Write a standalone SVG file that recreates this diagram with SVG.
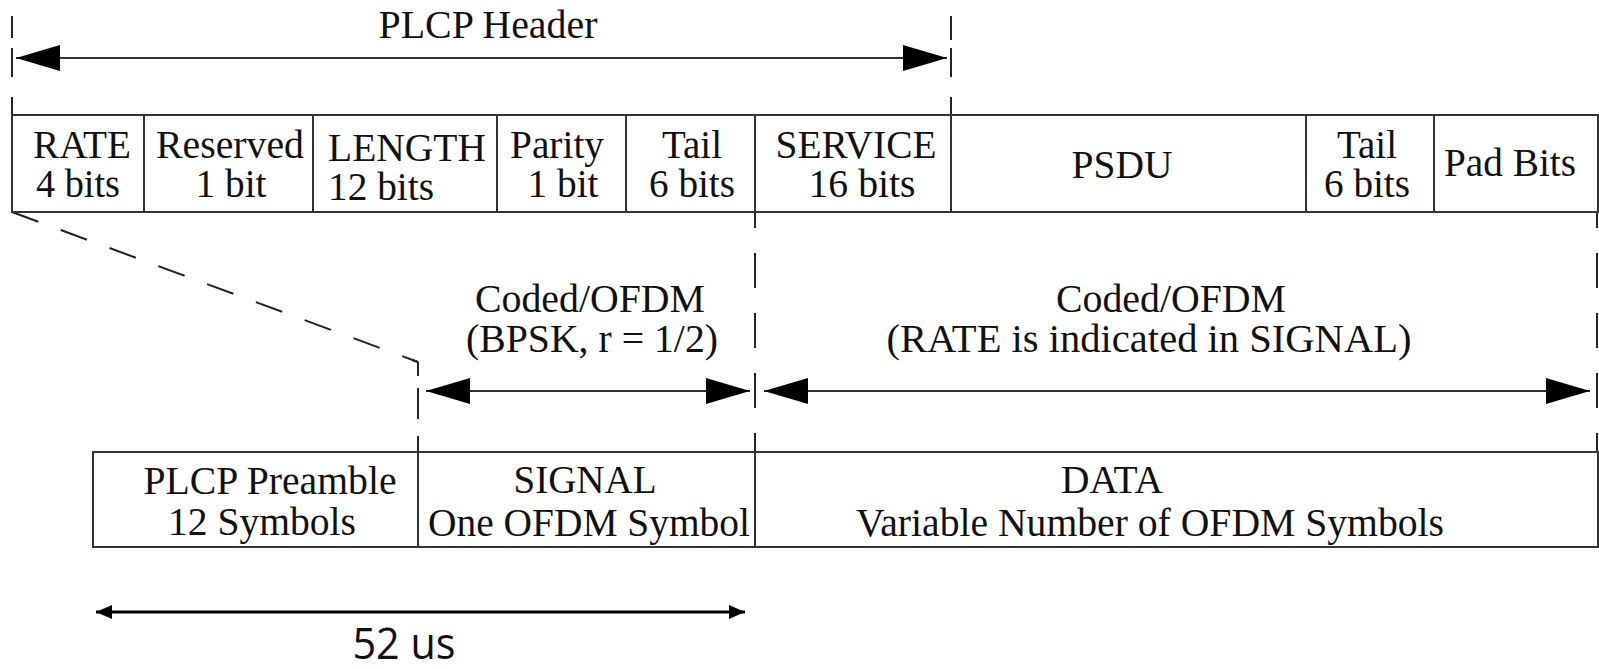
<svg xmlns="http://www.w3.org/2000/svg" width="1599" height="669" viewBox="0 0 1599 669" font-family="Liberation Serif, Times New Roman, Times, serif">
<style>
text.t{font-size:39px;fill:#111;text-anchor:middle}
.box{fill:#fff;stroke:#333;stroke-width:2}
.div{stroke:#333;stroke-width:2}
.dash{stroke:#222;stroke-width:2;fill:none}
.arr{stroke:#333;stroke-width:2.2;fill:none}
</style>
<defs>
<marker id="big" viewBox="0 0 44 26" refX="44" refY="13" markerWidth="44" markerHeight="26" markerUnits="userSpaceOnUse" orient="auto-start-reverse">
<path d="M0,0 L44,13 L0,26 z" fill="#000"/>
</marker>
<marker id="small" viewBox="0 0 16 14" refX="16" refY="7" markerWidth="16" markerHeight="14" markerUnits="userSpaceOnUse" orient="auto-start-reverse">
<path d="M0,0 L16,7 L0,14 z" fill="#000"/>
</marker>
</defs>
<rect width="1599" height="669" fill="#fff"/>

<g id="connectors">
<path class="dash" d="M12,16 V38 M12,48 V77 M12,97 V115"/>
<path class="dash" d="M951,16 V40 M951,48 V77 M951,97 V115"/>
<line class="arr" x1="16" y1="58" x2="947" y2="58" marker-start="url(#big)" marker-end="url(#big)"/>
<line class="dash" x1="12" y1="212" x2="418" y2="362" stroke-dasharray="28 24"/>
<path class="dash" d="M412,360 L418,362 M418,362 V376 M418,388 V419 M418,436 V452"/>
<line class="dash" x1="755" y1="212" x2="755" y2="452" stroke-dasharray="35 25" stroke-dashoffset="19"/>
<line class="dash" x1="1597" y1="212" x2="1597" y2="452" stroke-dasharray="35 25" stroke-dashoffset="19"/>
<line class="arr" x1="426" y1="391" x2="750" y2="391" marker-start="url(#big)" marker-end="url(#big)"/>
<line class="arr" x1="764" y1="391" x2="1590" y2="391" marker-start="url(#big)" marker-end="url(#big)"/>
<line x1="96" y1="612" x2="745" y2="612" stroke="#000" stroke-width="3" marker-start="url(#small)" marker-end="url(#small)"/>
</g>

<g id="label-52us"><text x="404" y="659" font-family="Open Sans, DejaVu Sans, sans-serif" font-size="43" fill="#111" text-anchor="middle" textLength="103" lengthAdjust="spacingAndGlyphs">52 us</text></g>
<g id="label-header"><text class="t" x="488" y="38" textLength="219" lengthAdjust="spacingAndGlyphs">PLCP Header</text></g>
<g id="label-signal-coding"><text class="t" x="590" y="312" textLength="230" lengthAdjust="spacingAndGlyphs">Coded/OFDM</text><text class="t" x="592" y="352" textLength="252" lengthAdjust="spacingAndGlyphs">(BPSK, r = 1/2)</text></g>
<g id="label-data-coding"><text class="t" x="1171" y="312" textLength="230" lengthAdjust="spacingAndGlyphs">Coded/OFDM</text><text class="t" x="1149" y="352" textLength="525" lengthAdjust="spacingAndGlyphs">(RATE is indicated in SIGNAL)</text></g>

<g id="header-row">
<rect class="box" x="12" y="115" width="1586" height="97"/>
<line class="div" x1="144" y1="115" x2="144" y2="212"/>
<line class="div" x1="313" y1="115" x2="313" y2="212"/>
<line class="div" x1="497" y1="115" x2="497" y2="212" stroke-width="3"/>
<line class="div" x1="626" y1="115" x2="626" y2="212"/>
<line class="div" x1="755" y1="115" x2="755" y2="212"/>
<line class="div" x1="951" y1="115" x2="951" y2="212"/>
<line class="div" x1="1306" y1="115" x2="1306" y2="212"/>
<line class="div" x1="1434" y1="115" x2="1434" y2="212"/>
</g>
<g id="rate"><text class="t" x="82" y="158" textLength="98" lengthAdjust="spacingAndGlyphs">RATE</text><text class="t" x="78" y="197" textLength="84" lengthAdjust="spacingAndGlyphs">4 bits</text></g>
<g id="reserved"><text class="t" x="230" y="158" textLength="148" lengthAdjust="spacingAndGlyphs">Reserved</text><text class="t" x="231" y="197" textLength="71" lengthAdjust="spacingAndGlyphs">1 bit</text></g>
<g id="length"><text class="t" x="328" y="161" style="text-anchor:start" textLength="158" lengthAdjust="spacingAndGlyphs">LENGTH</text><text class="t" x="328" y="200" style="text-anchor:start" textLength="106" lengthAdjust="spacingAndGlyphs">12 bits</text></g>
<g id="parity"><text class="t" x="557" y="158" textLength="94" lengthAdjust="spacingAndGlyphs">Parity</text><text class="t" x="563" y="197" textLength="71" lengthAdjust="spacingAndGlyphs">1 bit</text></g>
<g id="tail1"><text class="t" x="692" y="158" textLength="60" lengthAdjust="spacingAndGlyphs">Tail</text><text class="t" x="692" y="197" textLength="86" lengthAdjust="spacingAndGlyphs">6 bits</text></g>
<g id="service"><text class="t" x="856" y="158" textLength="161" lengthAdjust="spacingAndGlyphs">SERVICE</text><text class="t" x="862" y="197" textLength="107" lengthAdjust="spacingAndGlyphs">16 bits</text></g>
<g id="psdu"><text class="t" x="1122" y="178" textLength="101" lengthAdjust="spacingAndGlyphs">PSDU</text></g>
<g id="tail2"><text class="t" x="1367" y="158" textLength="60" lengthAdjust="spacingAndGlyphs">Tail</text><text class="t" x="1367" y="197" textLength="86" lengthAdjust="spacingAndGlyphs">6 bits</text></g>
<g id="pad"><text class="t" x="1510" y="176" textLength="132" lengthAdjust="spacingAndGlyphs">Pad Bits</text></g>

<g id="frame-row">
<rect class="box" x="93" y="452" width="1505" height="95"/>
<line class="div" x1="418" y1="452" x2="418" y2="547"/>
<line class="div" x1="755" y1="452" x2="755" y2="547"/>
</g>
<g id="preamble"><text class="t" x="270" y="494" textLength="253" lengthAdjust="spacingAndGlyphs">PLCP Preamble</text><text class="t" x="262" y="535" textLength="188" lengthAdjust="spacingAndGlyphs">12 Symbols</text></g>
<g id="signal"><text class="t" x="585" y="493" textLength="143" lengthAdjust="spacingAndGlyphs">SIGNAL</text><text class="t" x="589" y="536" textLength="322" lengthAdjust="spacingAndGlyphs">One OFDM Symbol</text></g>
<g id="data"><text class="t" x="1112" y="493" textLength="102" lengthAdjust="spacingAndGlyphs">DATA</text><text class="t" x="1150" y="536" textLength="588" lengthAdjust="spacingAndGlyphs">Variable Number of OFDM Symbols</text></g>
</svg>
